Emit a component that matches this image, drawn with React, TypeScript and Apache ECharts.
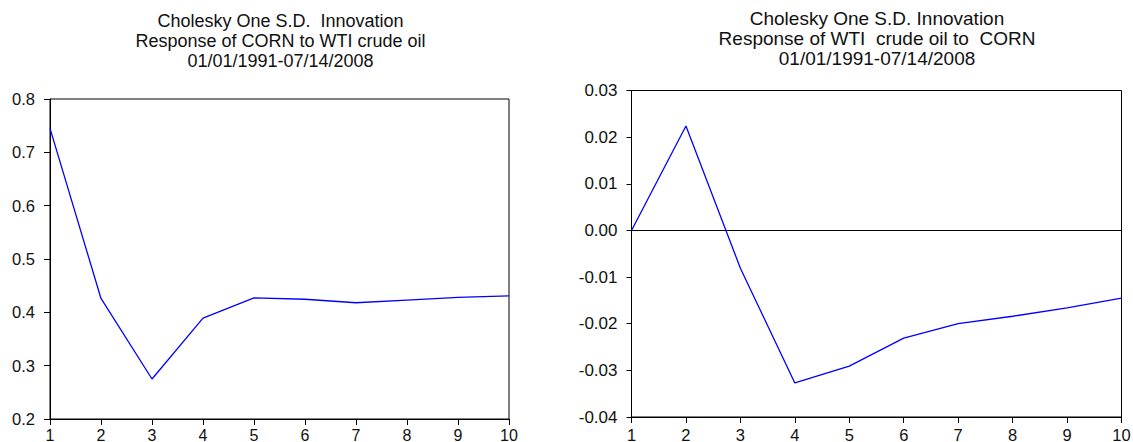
import React, { useEffect, useRef } from "react";
import * as echarts from "echarts";

const periods = [1, 2, 3, 4, 5, 6, 7, 8, 9, 10];
const cornToOil = [0.745, 0.426, 0.275, 0.389, 0.427, 0.4245, 0.418, 0.423, 0.428, 0.431];
const oilToCorn = [0.0, 0.0224, -0.0081, -0.0327, -0.0291, -0.0231, -0.0200, -0.0184, -0.0166, -0.0145];

const leftTitle = [
  "Cholesky One S.D.  Innovation",
  "Response of CORN to WTI crude oil",
  "01/01/1991-07/14/2008",
];
const rightTitle = [
  "Cholesky One S.D. Innovation",
  "Response of WTI  crude oil to  CORN",
  "01/01/1991-07/14/2008",
];

const FONT = "'Liberation Sans', Arial, Helvetica, sans-serif";

export default function App() {
  const ref = useRef<HTMLDivElement>(null);
  useEffect(() => {
    document.body.style.margin = "0";
    const chart = echarts.init(ref.current!, null, { renderer: "svg" });

    const axisCommon = (tickLen: number) => ({
      axisLine: { show: true, onZero: false, lineStyle: { color: "#000", width: 1 } },
      axisTick: { show: true, inside: false, length: tickLen, lineStyle: { color: "#000", width: 1 } },
      splitLine: { show: false },
    });

    const titleTexts = (lines: string[], cx: number, baselines: number[], fontSize: number) =>
      lines.map((t, i) => ({
        type: "text",
        x: cx,
        y: baselines[i],
        style: {
          text: t,
          fill: "#111",
          font: `${fontSize}px ${FONT}`,
          textAlign: "center",
          textVerticalAlign: "bottom",
        },
        silent: true,
      }));

    chart.setOption({
      animation: false,
      backgroundColor: "#fff",
      grid: [
        { left: 50, top: 99, width: 459, height: 320, show: true, borderColor: "#000", borderWidth: 1, backgroundColor: "transparent", outerBoundsMode: "none", containLabel: false },
        { left: 631.5, top: 90.5, width: 490, height: 326.5, show: true, borderColor: "#000", borderWidth: 1, backgroundColor: "transparent", outerBoundsMode: "none", containLabel: false },
      ],
      xAxis: [
        {
          type: "value", gridIndex: 0, min: 1, max: 10, interval: 1,
          ...axisCommon(6),
          axisLabel: { color: "#111", fontSize: 16, fontFamily: FONT, margin: 8, showMinLabel: true, showMaxLabel: true },
        },
        {
          type: "value", gridIndex: 1, min: 1, max: 10, interval: 1,
          ...axisCommon(6),
          axisLabel: { color: "#111", fontSize: 16.5, fontFamily: FONT, margin: 9, showMinLabel: true, showMaxLabel: true },
        },
      ],
      yAxis: [
        {
          type: "value", gridIndex: 0, min: 0.2, max: 0.8, interval: 0.1,
          ...axisCommon(6),
          axisLabel: {
            color: "#111", fontSize: 16.5, fontFamily: FONT, margin: 15,
            formatter: (v: number) => v.toFixed(1),
          },
        },
        {
          type: "value", gridIndex: 1, min: -0.04, max: 0.03, interval: 0.01,
          ...axisCommon(5),
          axisLabel: {
            color: "#111", fontSize: 17, fontFamily: FONT, margin: 14,
            formatter: (v: number) => (Math.abs(v) < 1e-9 ? "0.00" : v.toFixed(2)),
          },
        },
      ],
      series: [
        {
          type: "line", xAxisIndex: 0, yAxisIndex: 0,
          data: periods.map((p, i) => [p, cornToOil[i]]),
          symbol: "none",
          lineStyle: { color: "#0000ff", width: 1.3 },
        },
        {
          type: "line", xAxisIndex: 1, yAxisIndex: 1,
          data: periods.map((p, i) => [p, oilToCorn[i]]),
          symbol: "none",
          lineStyle: { color: "#0000ff", width: 1.3 },
          markLine: {
            silent: true,
            symbol: ["none", "none"],
            label: { show: false },
            lineStyle: { color: "#000", width: 1, type: "solid" },
            data: [{ yAxis: 0 }],
            z: 1,
          },
        },
      ],
      graphic: [
        ...titleTexts(leftTitle, 280.5, [30, 50, 70], 18),
        ...titleTexts(rightTitle, 877, [27.5, 47.5, 67.5], 19),
      ],
    });
    return () => chart.dispose();
  }, []);
  return <div ref={ref} style={{ width: 1133, height: 442 }} />;
}
